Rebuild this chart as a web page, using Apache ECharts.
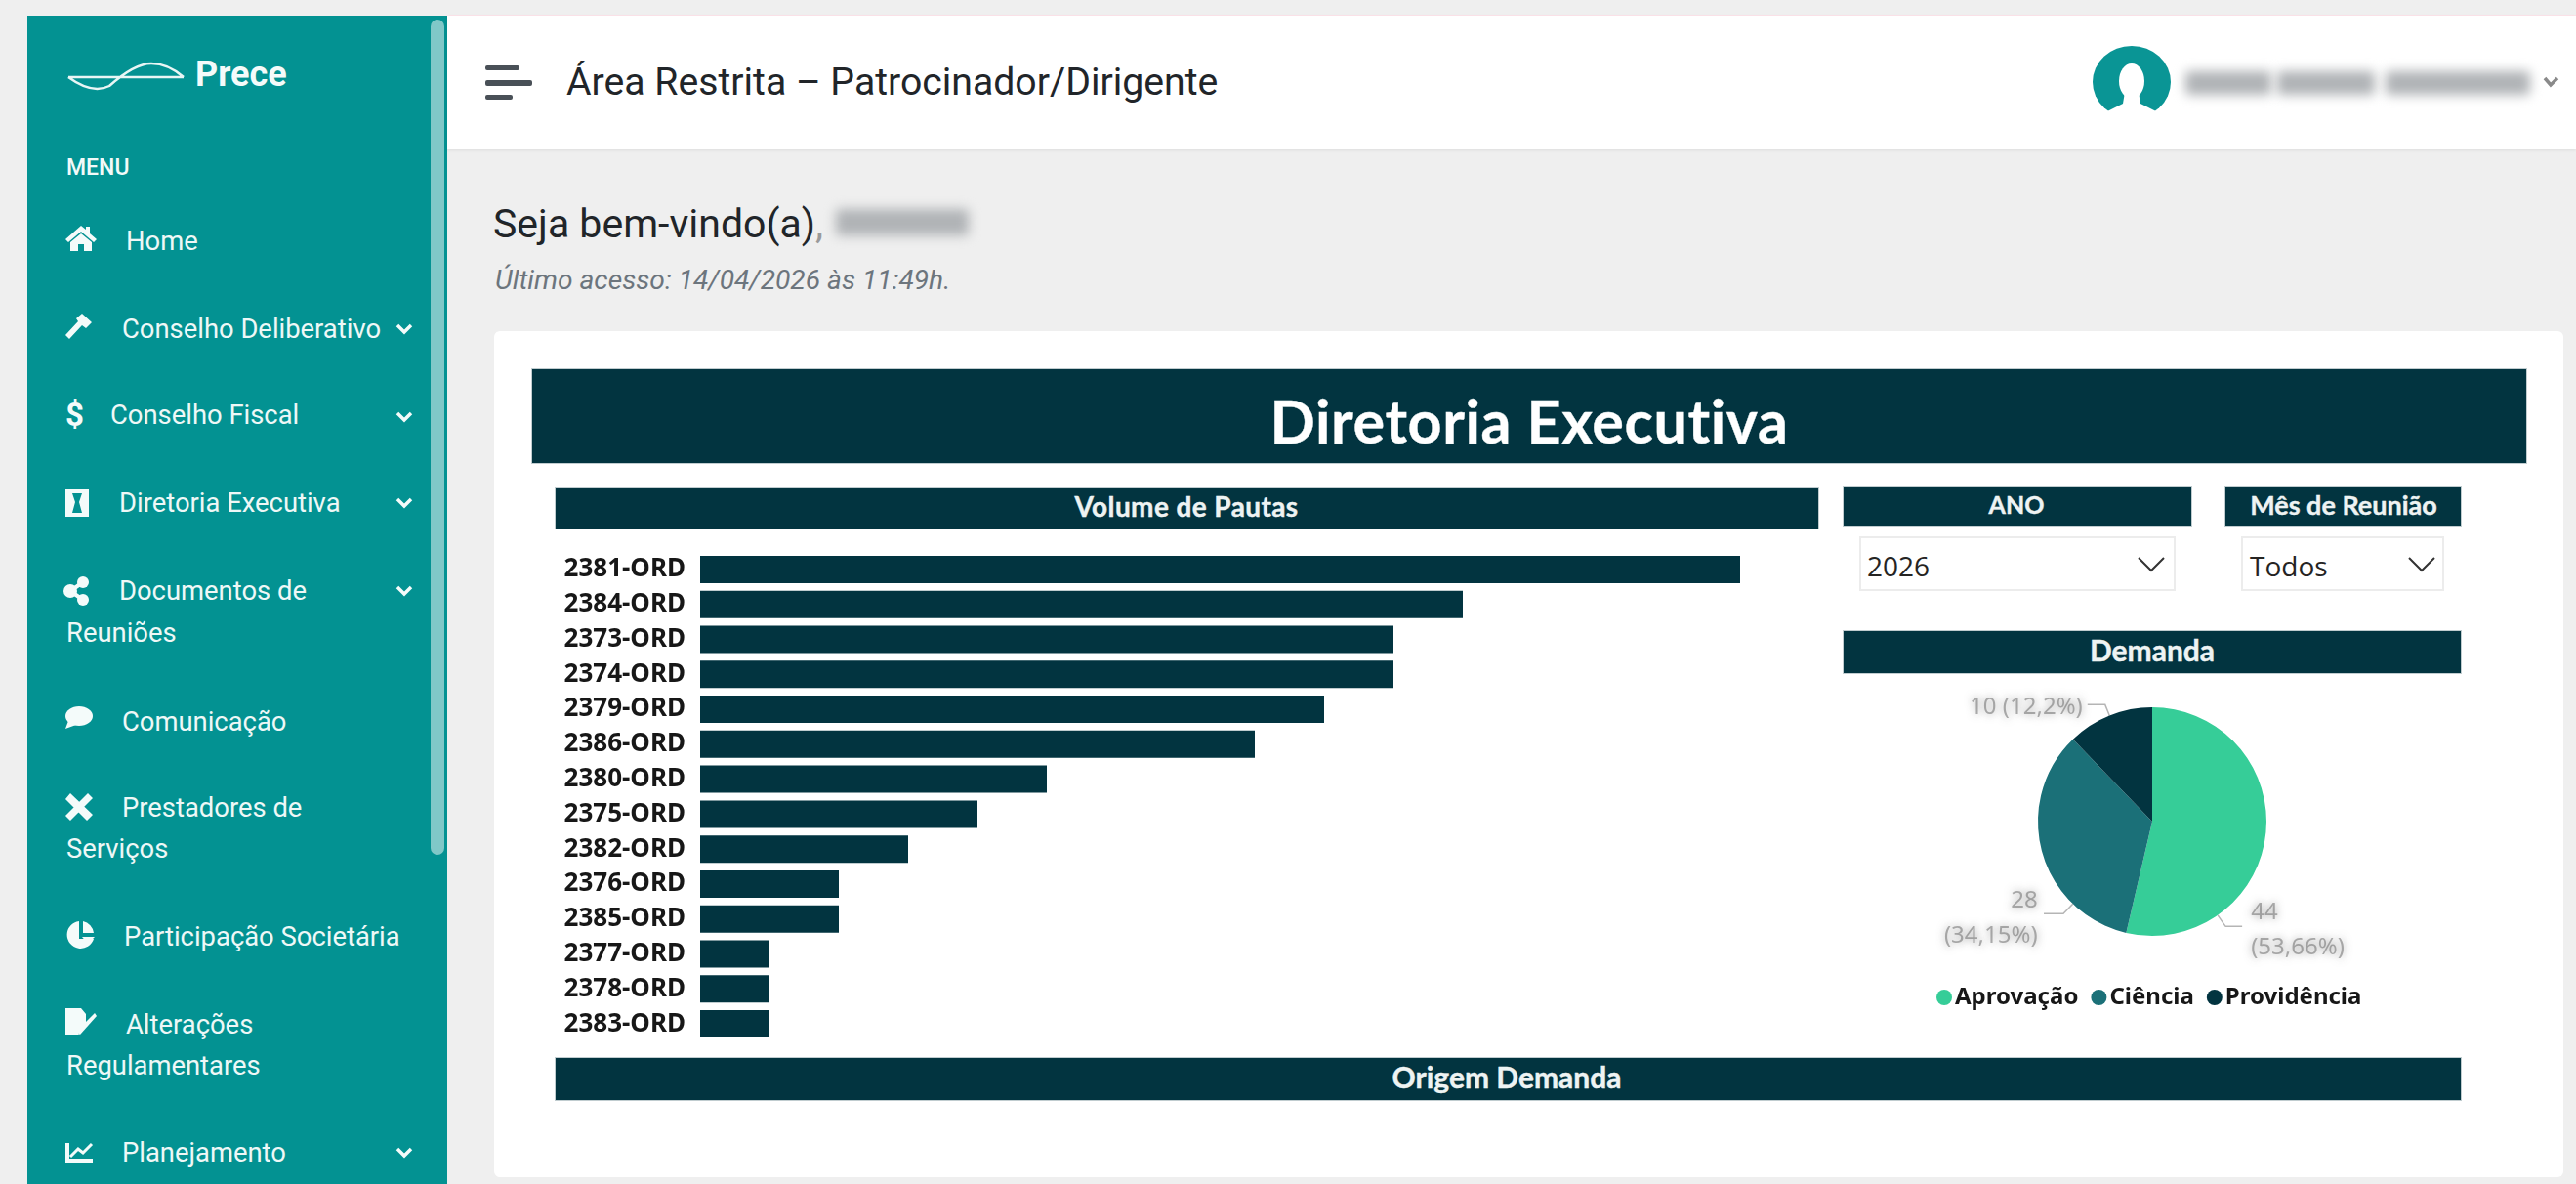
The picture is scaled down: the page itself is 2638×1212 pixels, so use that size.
<!DOCTYPE html>
<html>
<head>
<meta charset="utf-8">
<title>Diretoria Executiva</title>
<script src="https://cdn.jsdelivr.net/npm/echarts@6/dist/echarts.min.js"></script>
<style>
html,body{margin:0;padding:0;width:2638px;height:1212px;overflow:hidden;background:#efefef;font-family:Roboto,sans-serif}
.box{position:absolute}
.t{position:absolute;white-space:nowrap;transform:translateY(-50%);line-height:1}
.c{transform:translate(-50%,-50%)}
.nav{color:#eef8f7;font-size:27.4px;margin-top:1px}
.band{position:absolute;background:#023440;box-shadow:0 0 0 1px rgba(2,52,64,.25)}
.head{color:#eef3f3;font-family:Lato,sans-serif;font-weight:700;-webkit-text-stroke:.4px #eef3f3}
.drop{position:absolute;border:2px solid #ececec;box-sizing:border-box;background:#fff}
.val{color:#252423;font-family:"Open Sans",sans-serif;font-size:28px}
.blur{position:absolute;background:#b0b3b6;filter:blur(6px);border-radius:4px}
svg{position:absolute;overflow:visible}
#main{position:absolute;left:0;top:0;width:2638px;height:1212px}
</style>
</head>
<body>
<!-- barra lateral -->
<div class="box" style="left:28px;top:16px;width:430px;height:1196px;background:#039292"></div>
<div class="box" style="left:441px;top:20px;width:14px;height:855px;border-radius:7px;background:#80c8c8"></div>
<svg style="left:0;top:0" width="460" height="120" fill="none" stroke="#e8f6f5" stroke-width="2.5">
  <path d="M70 79H188M70 79C85 90 100 94 112 88C130 72 145 65 155 65C170 65 180 72 188 79"/>
</svg>
<div class="t" style="left:200px;top:76px;color:#f4fbfa;font-size:36px;font-weight:700">Prece</div>
<div class="t" style="left:68px;top:171px;color:#f2faf9;font-size:23px;font-weight:500">MENU</div>
<div id="menu"></div>
<svg style="left:0;top:0" width="460" height="1212" fill="#f4fbfa" stroke="none">
  <path d="M83 231L67 245L70 248L83 237L96 248L99 245L92 239V232H88V235ZM72 248V257H80V250H86V257H94V248L83 239Z"/>
  <path d="M84 321L94 330L88 336L84 333L71 347L67 343L80 329L78 326Z"/>
  <text x="67" y="436" font-family="Roboto" font-weight="700" font-size="33">$</text>
  <path fill-rule="evenodd" d="M67 501H91V529H67ZM74 505H84L81 514L84 525H74L77 514Z"/>
  <circle cx="85" cy="596" r="6"/><circle cx="85" cy="614" r="6"/><circle cx="72" cy="605" r="7"/>
  <path d="M85 596L72 605L85 614" fill="none" stroke="#f4fbfa" stroke-width="4"/>
  <ellipse cx="81" cy="733" rx="14" ry="10"/><path d="M70 738L67 746L78 742Z"/>
  <path d="M72 812L95 834L89 840L67 818ZM90 812L95 817L72 840L67 835Z"/>
  <path d="M81 943A14 14 0 1 0 96 961H81Z"/><path d="M85 943A14 14 0 0 1 96 955H85ZM84 959H97L90 966Z"/>
  <path d="M67 1032H83L88 1038V1050L80 1058L82 1059H67Z"/><path d="M78 1056L97 1037L99 1040L82 1059Z"/>
  <path d="M67 1170H71V1186H95V1190H67Z"/><path d="M72 1184L80 1176L85 1180L94 1171" fill="none" stroke="#f4fbfa" stroke-width="3"/>
</svg>
<svg style="left:0;top:0" width="460" height="1212" fill="none" stroke="#f4fbfa" stroke-width="3.5" id="chev"></svg>

<!-- topo -->
<div class="box" style="left:458px;top:15px;width:2180px;height:1px;background:#fde4ea"></div>
<div class="box" style="left:458px;top:16px;width:2180px;height:137px;background:#fff;box-shadow:0 1px 3px rgba(0,0,0,.08)"></div>
<div class="box" style="left:497px;top:67px;width:35px;height:5px;background:#495057;border-radius:2px"></div>
<div class="box" style="left:497px;top:82px;width:48px;height:6px;background:#495057;border-radius:2px"></div>
<div class="box" style="left:497px;top:97px;width:28px;height:5px;background:#495057;border-radius:2px"></div>
<div class="t" style="left:580px;top:85px;color:#212529;font-size:39.2px">Área Restrita – Patrocinador/Dirigente</div>
<svg style="left:2140px;top:44px" width="90" height="80">
  <defs><clipPath id="av"><path d="M0 0H90V74H0Z"/></clipPath></defs>
  <ellipse cx="43" cy="40" rx="40" ry="37" fill="#0a9595" clip-path="url(#av)"/>
  <ellipse cx="43" cy="39" rx="13" ry="18" fill="#fff"/>
  <path d="M36 50L34 62L14 72L22 80H64L72 72L52 62L50 50Z" fill="#fff"/>
</svg>
<div class="blur" style="left:2238px;top:73px;width:88px;height:24px"></div>
<div class="blur" style="left:2332px;top:73px;width:100px;height:24px"></div>
<div class="blur" style="left:2443px;top:73px;width:148px;height:24px"></div>
<svg style="left:2605px;top:78px" width="16" height="12" fill="none" stroke="#8a8a8a" stroke-width="3.5"><path d="M1 2L7 9L14 2"/></svg>

<!-- boas vindas -->
<div class="t" style="left:505px;top:229px;color:#212529;font-size:41px">Seja bem-vindo(a)<span style="color:#9a9a9a">,</span></div>
<div class="blur" style="left:856px;top:214px;width:136px;height:27px"></div>
<div class="t" style="left:507px;top:287px;color:#6c757d;font-size:28.2px;font-style:italic">Último acesso: 14/04/2026 às 11:49h.</div>

<!-- cartao -->
<div class="box" style="left:506px;top:339px;width:2119px;height:866px;background:#fff;border-radius:6px"></div>
<div class="band" style="left:545px;top:378px;width:2042px;height:96px"></div>
<div class="t c head" style="left:1566px;top:430px;color:#fff;font-size:61px;letter-spacing:.6px">Diretoria Executiva</div>
<div class="band" style="left:569px;top:500px;width:1293px;height:41px"></div>
<div class="t c head" style="left:1215px;top:518px;font-size:28px;letter-spacing:.4px">Volume de Pautas</div>
<div class="band" style="left:1888px;top:499px;width:356px;height:39px"></div>
<div class="t c head" style="left:2065px;top:516px;font-size:25px">ANO</div>
<div class="band" style="left:2279px;top:499px;width:241px;height:39px"></div>
<div class="t c head" style="left:2400px;top:516px;font-size:27px">Mês de Reunião</div>
<div class="drop" style="left:1904px;top:549px;width:324px;height:56px"></div>
<div class="t val" style="left:1912px;top:579px">2026</div>
<svg style="left:2189px;top:570px" width="30" height="16" fill="none" stroke="#333" stroke-width="2"><path d="M1 1L14 14L27 1"/></svg>
<div class="drop" style="left:2295px;top:549px;width:208px;height:56px"></div>
<div class="t val" style="left:2304px;top:579px">Todos</div>
<svg style="left:2466px;top:570px" width="30" height="16" fill="none" stroke="#333" stroke-width="2"><path d="M1 1L14 14L27 1"/></svg>
<div class="band" style="left:1888px;top:646px;width:632px;height:43px"></div>
<div class="t c head" style="left:2204px;top:665px;font-size:30px">Demanda</div>
<div class="band" style="left:569px;top:1083px;width:1951px;height:43px"></div>
<div class="t c head" style="left:1543px;top:1102px;font-size:30px">Origem Demanda</div>

<div id="main"></div>

<script type="text/javascript">
var reunioes = ['2381-ORD','2384-ORD','2373-ORD','2374-ORD','2379-ORD','2386-ORD','2380-ORD','2375-ORD','2382-ORD','2376-ORD','2385-ORD','2377-ORD','2378-ORD','2383-ORD'];
var pautas = [15,11,10,10,9,8,5,4,3,2,2,1,1,1];
var demandas = ['Aprovação','Ciência','Providência'];
var demandaValores = [44,28,10];
var demandaCores = ['#36cd98','#1b7078','#023440'];

// itens do menu: texto, x, y
var menu = [
  ['Home',129,247],['Conselho Deliberativo',125,337],['Conselho Fiscal',113,425],['Diretoria Executiva',122,515],
  ['Documentos de',122,605],['Reuniões',68,648],['Comunicação',125,739],['Prestadores de',125,827],['Serviços',68,869],
  ['Participação Societária',127,959],['Alterações',129,1049],['Regulamentares',68,1091],['Planejamento',125,1180]
];
document.getElementById('menu').innerHTML = menu.map(function(m){
  return '<div class="t nav" style="left:'+m[1]+'px;top:'+m[2]+'px">'+m[0]+'</div>';
}).join('');
document.getElementById('chev').innerHTML = [337,427,515,605,1180].map(function(y){
  return '<path d="M407 '+(y-4)+'L414 '+(y+3)+'L421 '+(y-4)+'"/>';
}).join('');

var total = demandaValores.reduce(function(a,b){return a+b;},0);
var pizzaCentro = [2204,841];
var pizzaRaio = 117;
// deslocamento dos rotulos da pizza e angulo (graus) onde sai a linha guia
var rotuloDx = [-50,30,0];
var rotuloDy = [96,65,3];
var guiaAngulo = [145,224,null];
function guia(i){
  var a = guiaAngulo[i]/180*Math.PI, s = Math.sin(a), c = -Math.cos(a);
  var p0 = [pizzaCentro[0]+pizzaRaio*s,pizzaCentro[1]+pizzaRaio*c];
  var p1 = [p0[0]+14*s,p0[1]+14*c];
  return [p0,p1,[p1[0]+(s>0?17:-20),p1[1]]];
}
var myChart = echarts.init(document.getElementById('main'));
var option = {
  animation:false,
  grid:{left:717,top:565,width:1065,height:501,containLabel:false},
  xAxis:{type:'value',min:0,max:15,show:false},
  yAxis:{
    type:'category',inverse:true,data:reunioes,
    axisLine:{show:false},axisTick:{show:false},
    axisLabel:{color:'#171717',fontFamily:'Noto Sans',fontWeight:'bold',fontSize:26,margin:15}
  },
  legend:{
    data:demandas,left:1978,top:1004,icon:'circle',itemWidth:16,itemHeight:16,itemGap:13,
    selectedMode:false,
    textStyle:{color:'#171717',fontFamily:'Noto Sans',fontWeight:'bold',fontSize:24,padding:[0,0,0,-2]}
  },
  series:[
    {type:'bar',data:pautas,barWidth:28,itemStyle:{color:'#023440'},silent:true},
    {
      type:'pie',center:pizzaCentro,radius:[0,pizzaRaio],startAngle:90,clockwise:true,silent:true,
      data:demandas.map(function(n,i){return {name:n,value:demandaValores[i],itemStyle:{color:demandaCores[i]}};}),
      label:{
        color:'rgba(110,110,110,0.55)',fontFamily:'Noto Sans',fontSize:24,lineHeight:36,
        textShadowColor:'rgba(70,70,70,1)',textShadowBlur:9,
        formatter:function(p){
          var pct = (p.value/total*100).toFixed(2).replace(/0$/,'').replace('.',',');
          return p.value+(p.value<20?' ':'\n')+'('+pct+'%)';
        }
      },
      labelLine:{length:12,length2:18,lineStyle:{color:'#b5b5b5',width:1.5}},
      labelLayout:function(p){
        var l = {dx:rotuloDx[p.dataIndex],dy:rotuloDy[p.dataIndex]};
        if(guiaAngulo[p.dataIndex]!=null) l.labelLinePoints = guia(p.dataIndex);
        return l;
      }
    }
  ]
};
myChart.setOption(option);
</script>
</body>
</html>
